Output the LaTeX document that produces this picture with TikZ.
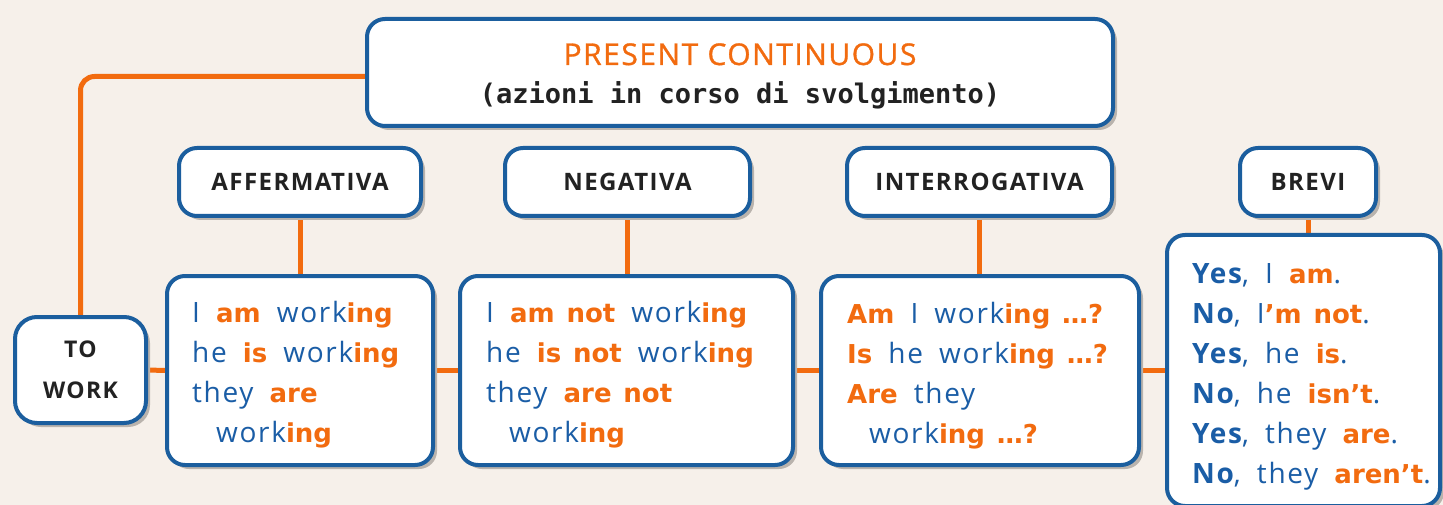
\documentclass[tikz,border=0pt]{standalone}
\usepackage{fontspec}
\setmainfont{Open Sans}[LetterSpace=6, WordSpace=1.8]
\newfontfamily\monof{DejaVu Sans Mono}
\newfontfamily\orf{DejaVu Sans}[WordSpace=1.3]
\newfontfamily\headf{Open Sans}[LetterSpace=6]
\newfontfamily\titlef{Open Sans}[LetterSpace=5, FakeBold=1]
\usetikzlibrary{shadows}
\definecolor{bgc}{HTML}{F6F0EA}
\definecolor{bordc}{HTML}{1B5E9E}
\definecolor{orng}{HTML}{F26B0F}
\definecolor{bluet}{HTML}{1A5DA6}
\definecolor{darkt}{HTML}{222222}
\definecolor{shad}{HTML}{B9B3AD}
\newcommand\OB[1]{{\orf\bfseries\fontsize{26}{32}\selectfont\color{orng}#1}}
\newcommand\BB[1]{{\bfseries #1}}
\pgfdeclarelayer{back}\pgfdeclarelayer{lines}
\pgfsetlayers{back,lines,main}
\tikzset{
  box/.style={draw=bordc, line width=4pt, fill=white, rounded corners=18pt,
    drop shadow={shadow xshift=4pt, shadow yshift=-4pt, fill=shad, opacity=1},
    inner sep=0pt},
  hd/.style={box, minimum height=68pt, font=\headf\bfseries\fontsize{24}{28}\selectfont, text=darkt},
  cbox/.style={box, minimum height=189pt},
  conn/.style={draw=orng, line width=5pt},
  ln/.style={anchor=base west, inner sep=0pt, font=\fontsize{28}{32}\selectfont, text=bluet}
}
\begin{document}
\begin{tikzpicture}[x=1pt,y=-1pt]
\useasboundingbox (0,0) rectangle (1443,505);
\begin{pgfonlayer}{back}
\fill[bgc] (0,0) rectangle (1443,505);
\end{pgfonlayer}
% title
\node[box, minimum width=746pt, minimum height=107pt] (top) at (740,72.5) {};
\node[anchor=base, inner sep=0pt, font=\titlef\fontsize{30}{36}\selectfont, text=orng] (t1) at (740,65) {PRESENT CONTINUOUS};
\node[anchor=base, inner sep=0pt, font=\monof\bfseries\fontsize{27}{32}\selectfont, text=darkt] (t2) at (740,104) {(azioni in corso di svolgimento)};
% headers
\node[hd, minimum width=242pt] (affh) at (300,182) {AFFERMATIVA};
\node[hd, minimum width=245pt] (negh) at (627.5,182) {NEGATIVA};
\node[hd, minimum width=265pt] (inth) at (979.5,182) {INTERROGATIVA};
\node[hd, minimum width=136pt] (brh) at (1308,182) {BREVI};
% to work
\node[box, rounded corners=22pt, minimum width=131pt, minimum height=106pt, align=center,
  font=\headf\bfseries\fontsize{23}{41}\selectfont, text=darkt] (tw) at (80.5,370) {TO\\WORK};
% content boxes
\node[cbox, minimum width=266pt] (aff) at (300,370.5) {};
\node[cbox, minimum width=333pt] (neg) at (626.5,370.5) {};
\node[cbox, minimum width=318pt] (int) at (980,370.5) {};
\node[box, minimum width=273pt, minimum height=271pt] (br) at (1303.5,370.5) {};
% affermativa
\node[ln] (a1) at (192,322) {I \OB{am} work\OB{ing}};
\node[ln] (a2) at (192,362) {he \OB{is} work\OB{ing}};
\node[ln] (a3) at (192,402) {they \OB{are}};
\node[ln] (a4) at (216,442) {work\OB{ing}};
% negativa
\node[ln] (n1) at (486,322) {I \OB{am not} work\OB{ing}};
\node[ln] (n2) at (486,362) {he \OB{is not} work\OB{ing}};
\node[ln] (n3) at (486,402) {they \OB{are not}};
\node[ln] (n4) at (509,442) {work\OB{ing}};
% interrogativa
\node[ln] (i1) at (847,323) {\OB{Am} I work\OB{ing …?}};
\node[ln] (i2) at (847,363) {\OB{Is} he work\OB{ing …?}};
\node[ln] (i3) at (847,403) {\OB{Are} they};
\node[ln] (i4) at (869,443) {work\OB{ing …?}};
% brevi
\node[ln] (b1) at (1192,283) {\BB{Yes}, I \OB{am}.};
\node[ln] (b2) at (1192,323) {\BB{No}, I\OB{’m not}.};
\node[ln] (b3) at (1192,363) {\BB{Yes}, he \OB{is}.};
\node[ln] (b4) at (1192,403) {\BB{No}, he \OB{isn’t}.};
\node[ln] (b5) at (1192,443) {\BB{Yes}, they \OB{are}.};
\node[ln] (b6) at (1192,483) {\BB{No}, they \OB{aren’t}.};
% connectors
\begin{pgfonlayer}{lines}
\draw[conn, rounded corners=14pt] ([yshift=-4pt]top.west) -| (tw.north);
\draw[conn] (tw.east) -- (aff.west);
\draw[conn] (aff.east) -- (neg.west);
\draw[conn] (neg.east) -- (int.west);
\draw[conn] (int.east) -- (br.west);
\draw[conn] (affh.south) -- (affh.south |- aff.north);
\draw[conn] (negh.south) -- (negh.south |- neg.north);
\draw[conn] (inth.south) -- (inth.south |- int.north);
\draw[conn] (brh.south) -- (brh.south |- br.north);
\end{pgfonlayer}
\end{tikzpicture}
\end{document}
